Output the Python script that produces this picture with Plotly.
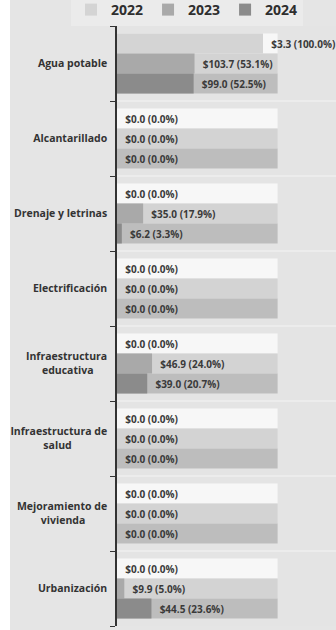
import plotly.graph_objects as go

categories = ["Agua potable", "Alcantarillado", "Drenaje y letrinas", "Electrificación",
              "Infraestructura educativa", "Infraestructura de salud",
              "Mejoramiento de vivienda", "Urbanización"]
NB = "\u00a0"
tick_labels = ["Agua potable", "Alcantarillado", "Drenaje y letrinas", "Electrificación",
               "Infraestructura<br>educativa" + NB * 5,
               "Infraestructura de<br>salud" + NB * 13,
               "Mejoramiento de<br>vivienda" + NB * 8,
               "Urbanización"]
years = ["2022", "2023", "2024"]
amounts_2022 = [3.3, 0.0, 0.0, 0.0, 0.0, 0.0, 0.0, 0.0]
pct_2022 = [100.0, 0.0, 0.0, 0.0, 0.0, 0.0, 0.0, 0.0]
amounts_2023 = [103.7, 0.0, 35.0, 0.0, 46.9, 0.0, 0.0, 9.9]
pct_2023 = [53.1, 0.0, 17.9, 0.0, 24.0, 0.0, 0.0, 5.0]
amounts_2024 = [99.0, 0.0, 6.2, 0.0, 39.0, 0.0, 0.0, 44.5]
pct_2024 = [52.5, 0.0, 3.3, 0.0, 20.7, 0.0, 0.0, 23.6]
track_value = [110.0] * len(categories)

amounts = [amounts_2022, amounts_2023, amounts_2024]
pcts = [pct_2022, pct_2023, pct_2024]
bar_colors = ["#d4d4d4", "#a9a9a9", "#8b8b8b"]
track_colors = ["#f7f7f7", "#d3d3d3", "#bdbdbd"]
offsets = [-0.4, -0.1333, 0.1333]
w = 0.2667

fig = go.Figure()
for i, yr in enumerate(years):
    fig.add_trace(go.Bar(
        y=categories, x=track_value, orientation="h", width=w, offset=offsets[i],
        marker=dict(color=track_colors[i], line=dict(width=0)),
        showlegend=False, hoverinfo="skip"))
for i, yr in enumerate(years):
    texts = [NB * 2 + "$%.1f (%.1f%%)" % (a, p) for a, p in zip(amounts[i], pcts[i])]
    fig.add_trace(go.Bar(
        y=categories, x=pcts[i], orientation="h", width=w, offset=offsets[i],
        name=yr, marker=dict(color=bar_colors[i], line=dict(width=0)),
        text=texts, textposition="outside", constraintext="none", cliponaxis=False,
        textfont=dict(family="Open Sans", size=10, color="#3a3a3a", weight="bold")))

fig.update_layout(
    width=336, height=630,
    barmode="overlay",
    margin=dict(l=117, r=0, t=26, b=4, autoexpand=False),
    paper_bgcolor="#e5e5e5",
    plot_bgcolor="#e4e4e4",
    font=dict(family="Open Sans", color="#333333"),
    legend=dict(orientation="h", x=-0.21, xanchor="left",
                y=1, yanchor="bottom",
                bgcolor="#ebebeb", font=dict(size=14, weight="bold", color="#2e2e2e")),
    xaxis=dict(range=[0, 150], showgrid=False, zeroline=False, showticklabels=False,
               showline=False, automargin=False),
    yaxis=dict(type="category", autorange="reversed", showline=True, linecolor="#333333",
               linewidth=1.5, ticks="outside", tickson="boundaries", ticklen=5,
               tickcolor="#333333", tickwidth=1, showgrid=True, gridcolor="#ececec",
               gridwidth=1.5, ticklabelstandoff=6, automargin=False,
               tickmode="array", tickvals=categories, ticktext=tick_labels,
               tickfont=dict(family="Open Sans", size=10.5, weight="bold", color="#333333")),
    shapes=[dict(type="rect", xref="paper", yref="paper", x0=-117/219, x1=-107/219,
                 y0=-0.1, y1=1.1, fillcolor="white", line=dict(width=0), layer="below")],
)

fig.write_html("out.html", config={"displayModeBar": False},
               post_script="document.body.style.margin='0px';")
